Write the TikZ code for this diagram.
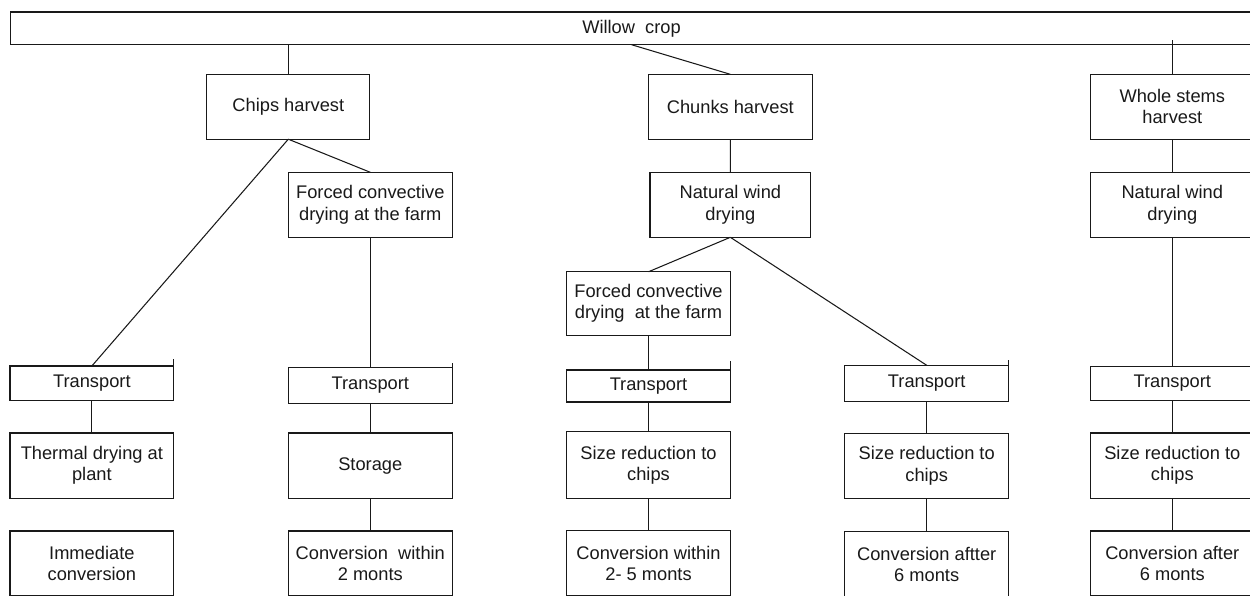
\documentclass[tikz,border=0pt]{standalone}
\usepackage{fontspec}
\setmainfont{Liberation Sans}
\begin{document}
\begin{tikzpicture}[x=0.02cm,y=-0.02cm,
  box/.style={draw=black!90,line width=0.6pt,inner sep=0pt,outer sep=0pt,align=center,
    font=\fontsize{10.4}{12}\selectfont,text=black!90,minimum width=3.28cm,minimum height=1.3cm},
  tbox/.style={box,minimum height=0.68cm},
  link/.style={draw=black!90,line width=0.6pt},
  tick/.style={draw=black!90,line width=0.6pt}]
\useasboundingbox (0,0) rectangle (1250,595);
\clip (0,0) rectangle (1250,595);
% top
\node[box,minimum width=24.86cm,minimum height=0.654cm] (willow) at (631.5,28.35) {Willow~ crop};
% harvest level
\node[box,minimum width=3.266cm] (chips) at (288.3,106.7) {Chips harvest};
\node[box] (chunks) at (730.3,106.8) {Chunks harvest};
\node[box] (ws) at (1172.3,106.7) {Whole stems\\harvest};
% drying level
\node[box] (forced1) at (370.3,204.8) {Forced convective\\drying at the farm};
\node[box,minimum width=3.214cm] (nwd1) at (730.35,204.8) {Natural wind\\drying};
\node[box] (nwd2) at (1172.3,204.8) {Natural wind\\drying};
\node[box,minimum height=1.27cm] (forced2) at (648.5,303.5) {Forced convective\\drying~ at the farm};
% transport
\node[tbox,minimum width=3.274cm,minimum height=0.694cm] (t1) at (91.85,383.35) {Transport};
\node[tbox,minimum height=0.72cm] (t2) at (370.3,385.6) {Transport};
\node[tbox,minimum height=0.64cm] (t3) at (648.5,386) {Transport};
\node[tbox,minimum height=0.72cm] (t4) at (926.7,383.3) {Transport};
\node[tbox,minimum height=0.672cm] (t5) at (1172.3,383.5) {Transport};
% middle
\node[box,minimum width=3.274cm,minimum height=1.306cm] (thermal) at (91.85,465.65) {Thermal drying at\\plant};
\node[box,minimum height=1.306cm] (storage) at (370.3,465.65) {Storage};
\node[box,minimum height=1.332cm] (size3) at (648.5,465) {Size reduction to\\chips};
\node[box] (size4) at (926.7,465.8) {Size reduction to\\chips};
\node[box,minimum height=1.306cm] (size5) at (1172.3,465.65) {Size reduction to\\chips};
% conversion
\node[box,minimum width=3.274cm] (conv1) at (91.85,563.5) {Immediate\\conversion};
\node[box] (conv2) at (370.3,563.5) {Conversion~ within\\2 monts};
\node[box] (conv3) at (648.5,563.2) {Conversion within\\2- 5 monts};
\node[box] (conv4) at (926.7,564.2) {Conversion aftter\\6 monts};
\node[box] (conv5) at (1172.3,563.5) {Conversion after\\6 monts};
% connectors
\path[link] (chips.north) -- (chips.north |- willow.south);
\path[link] (willow.south) -- (chunks.north);
\path[link,shorten >=-2.7pt] (ws.north) -- (ws.north |- willow.south);
\path[link] (chips.south) -- (forced1.north);
\path[link] (chips.south) -- (t1.north);
\path[link] (chunks.south) -- (nwd1.north);
\path[link] (nwd1.south) -- (forced2.north);
\path[link] (nwd1.south) -- (t4.north);
\path[link] (forced1.south) -- (t2.north);
\path[link] (forced2.south) -- (t3.north);
\path[link] (ws.south) -- (nwd2.north);
\path[link] (nwd2.south) -- (t5.north);
\path[link] (t1.south) -- (thermal.north);
\path[link] (t2.south) -- (storage.north);
\path[link] (storage.south) -- (conv2.north);
\path[link] (t3.south) -- (size3.north);
\path[link] (size3.south) -- (conv3.north);
\path[link] (t4.south) -- (size4.north);
\path[link] (size4.south) -- (conv4.north);
\path[link] (t5.south) -- (size5.north);
\path[link] (size5.south) -- (conv5.north);
% small ticks at transport corners
\coordinate (k1) at ([yshift=6.7*0.02cm]t1.north east);
\coordinate (k2) at ([yshift=4.4*0.02cm]t2.north east);
\coordinate (k3) at ([yshift=9*0.02cm]t3.north east);
\coordinate (k4) at ([yshift=5.3*0.02cm]t4.north east);
\path[tick] (t1.north east) -- (k1);
\path[tick] (t2.north east) -- (k2);
\path[tick] (t3.north east) -- (k3);
\path[tick] (t4.north east) -- (k4);
\end{tikzpicture}
\end{document}
